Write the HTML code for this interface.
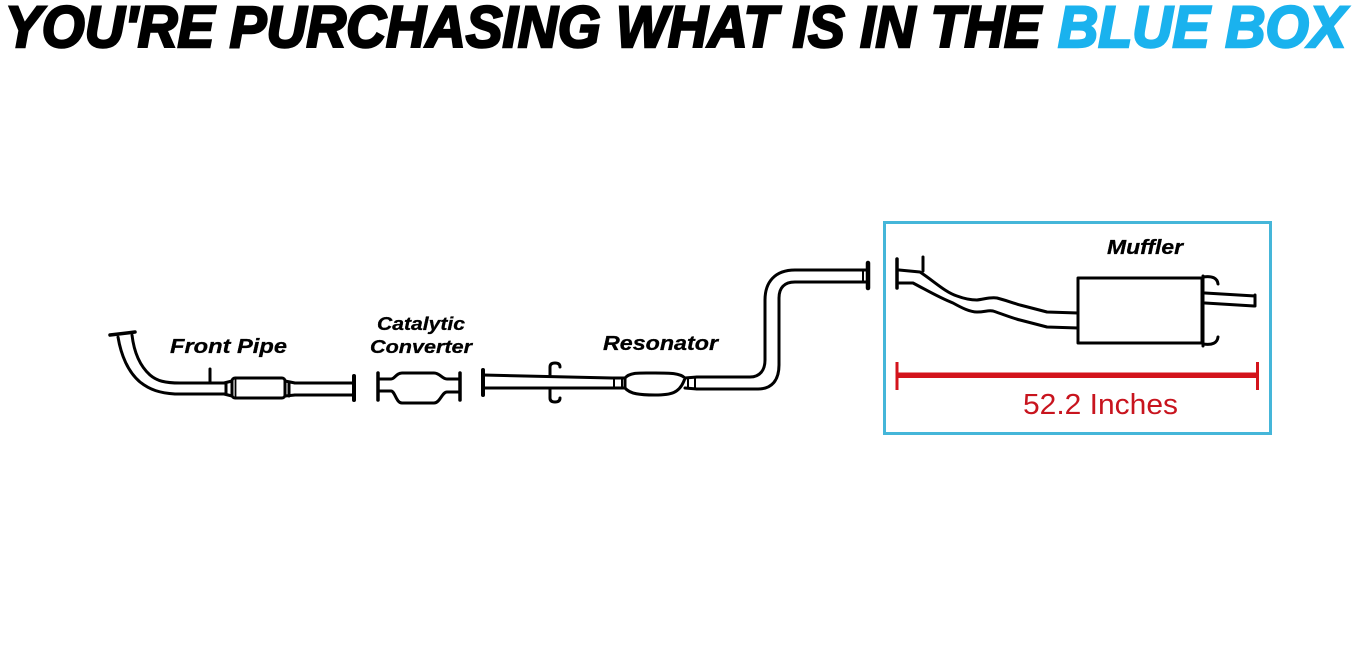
<!DOCTYPE html>
<html>
<head>
<meta charset="utf-8">
<style>
html,body{margin:0;padding:0;background:#fff;}
body{width:1361px;height:661px;overflow:hidden;}
svg{display:block;}
.lbl{font-family:"Liberation Sans",Arial,sans-serif;font-weight:bold;font-style:italic;fill:#000;stroke:#000;stroke-width:0.3;}
</style>
</head>
<body>
<svg width="1361" height="661" viewBox="0 0 1361 661" xmlns="http://www.w3.org/2000/svg">
  <rect x="0" y="0" width="1361" height="661" fill="#fff"/>

  <!-- Title -->
  <g font-family="Liberation Sans, Arial, sans-serif" font-weight="bold" font-style="italic" font-size="58">
    <text x="5" y="47" textLength="1036" lengthAdjust="spacingAndGlyphs" fill="#000" stroke="#000" stroke-width="2.5">YOU'RE PURCHASING WHAT IS IN THE</text>
    <text x="1058" y="47" textLength="288" lengthAdjust="spacingAndGlyphs" fill="#1ab2ee" stroke="#1ab2ee" stroke-width="2.5">BLUE BOX</text>
  </g>

  <g fill="none" stroke="#000" stroke-width="3" stroke-linecap="round" stroke-linejoin="round">
    <!-- Front pipe -->
    <line x1="110" y1="335" x2="135" y2="332" stroke-width="3.5"/>
    <path d="M118,337 C121,355 128,372 140,382 C150,390 160,393 175,394 L224,394"/>
    <path d="M132,335 C134,352 140,366 150,375 C157,381 165,383 180,383 L224,383"/>
    <line x1="210" y1="369" x2="210" y2="383"/>
    <path d="M224,383 L232,381 M224,394 L232,396" />
    <line x1="226" y1="383" x2="226" y2="394" stroke-width="3"/>
    <rect x="232" y="378" width="53" height="20" rx="3"/>
    <line x1="235.5" y1="379" x2="235.5" y2="397" stroke-width="1.8"/>
    <path d="M285,381 L295,383 M285,396 L295,395"/>
    <line x1="289" y1="382" x2="289" y2="396" stroke-width="3"/>
    <path d="M295,383 L352,383 M295,395 L352,395"/>
    <line x1="354" y1="376" x2="354" y2="400" stroke-width="4"/>

    <!-- Catalytic converter -->
    <line x1="378" y1="373" x2="378" y2="400" stroke-width="3.5"/>
    <path d="M378,379 L391,379 C395,379 396,373 402,373 L434,373 C440,373 442,379 447,379 L460,379"/>
    <path d="M378,391 L391,391 C395,391 396,403 402,403 L434,403 C440,403 442,392 447,392 L460,392"/>
    <line x1="460" y1="373" x2="460" y2="400" stroke-width="3.5"/>

    <!-- Resonator pipe -->
    <line x1="483" y1="370" x2="483" y2="395" stroke-width="4"/>
    <path d="M483,375 L612,378"/>
    <path d="M483,388 L612,388"/>
    <path d="M550,376 L550,367 Q550,363 555,363 Q560,363 560,367"/>
    <path d="M550,388 L550,398 Q550,402 555,402 Q560,402 560,398"/>
    <path d="M612,378 L625,378 M612,388 L625,388"/>
    <line x1="614" y1="378" x2="614" y2="388" stroke-width="2"/>
    <line x1="622" y1="378" x2="622" y2="388" stroke-width="2"/>
    <path d="M625,378 C630,372 640,373 655,373 C670,373 680,373 685,378 C680,394 670,395 655,395 C640,395 630,394 625,388 Z"/>
    <path d="M685,378 L697,377 M685,388 L697,389"/>
    <line x1="688" y1="378" x2="688" y2="388" stroke-width="2"/>
    <line x1="695" y1="377" x2="695" y2="389" stroke-width="2"/>
    <path d="M697,377 L750,377 C760,377 765,370 765,360 L765,300 C765,282 775,270 795,270 L866,270"/>
    <path d="M697,389 L758,389 C772,389 779,380 779,365 L779,298 C779,288 784,282 795,282 L866,282"/>
    <line x1="863" y1="271" x2="863" y2="281" stroke-width="2"/>
    <line x1="868" y1="263" x2="868" y2="288" stroke-width="4.5"/>
  </g>

  <!-- Blue box -->
  <rect x="884.5" y="222.5" width="386" height="211" fill="none" stroke="#45b6d9" stroke-width="3"/>

  <!-- Muffler assembly -->
  <g fill="none" stroke="#000" stroke-width="3" stroke-linecap="round" stroke-linejoin="round">
    <line x1="897" y1="259" x2="897" y2="288" stroke-width="3.5"/>
    <line x1="923" y1="257" x2="923" y2="271"/>
    <path d="M899,270 L920,272 C935,282 945,292 957,296 C965,299 970,300 977,300 C985,299 990,297 997,298 C1005,300 1010,302 1020,305 L1047,312 L1078,313"/>
    <path d="M899,283 L913,283 C930,292 940,298 953,303 C962,308 970,312 977,312 C985,312 988,310 993,311 C1005,315 1012,318 1020,320 L1047,327 L1078,328"/>
    <rect x="1078" y="278" width="124" height="65"/>
    <line x1="1203" y1="276" x2="1203" y2="346"/>
    <path d="M1203,277 Q1217,275 1218,284"/>
    <path d="M1203,344 Q1217,346 1218,337"/>
    <path d="M1205,293 L1255,296 M1205,303 L1254,306"/>
    <line x1="1255" y1="295" x2="1255" y2="306"/>
  </g>

  <!-- Dimension line -->
  <rect x="897" y="372.5" width="361" height="5.5" fill="#d3141c"/>
  <rect x="895.5" y="362" width="3" height="28" fill="#d3141c"/>
  <rect x="1256" y="362" width="3" height="28" fill="#d3141c"/>
  <text x="1023" y="414" font-family="Liberation Sans, Arial, sans-serif" font-size="29" fill="#c8141e" textLength="155" lengthAdjust="spacingAndGlyphs">52.2 Inches</text>

  <!-- Labels -->
  <text class="lbl" x="170" y="353" font-size="20.5" textLength="117" lengthAdjust="spacingAndGlyphs">Front Pipe</text>
  <text class="lbl" x="377" y="330" font-size="18.5" textLength="88" lengthAdjust="spacingAndGlyphs">Catalytic</text>
  <text class="lbl" x="370" y="353" font-size="18.5" textLength="102" lengthAdjust="spacingAndGlyphs">Converter</text>
  <text class="lbl" x="603" y="350" font-size="20.5" textLength="115" lengthAdjust="spacingAndGlyphs">Resonator</text>
  <text class="lbl" x="1107" y="254" font-size="20" textLength="76" lengthAdjust="spacingAndGlyphs">Muffler</text>
</svg>
</body>
</html>
